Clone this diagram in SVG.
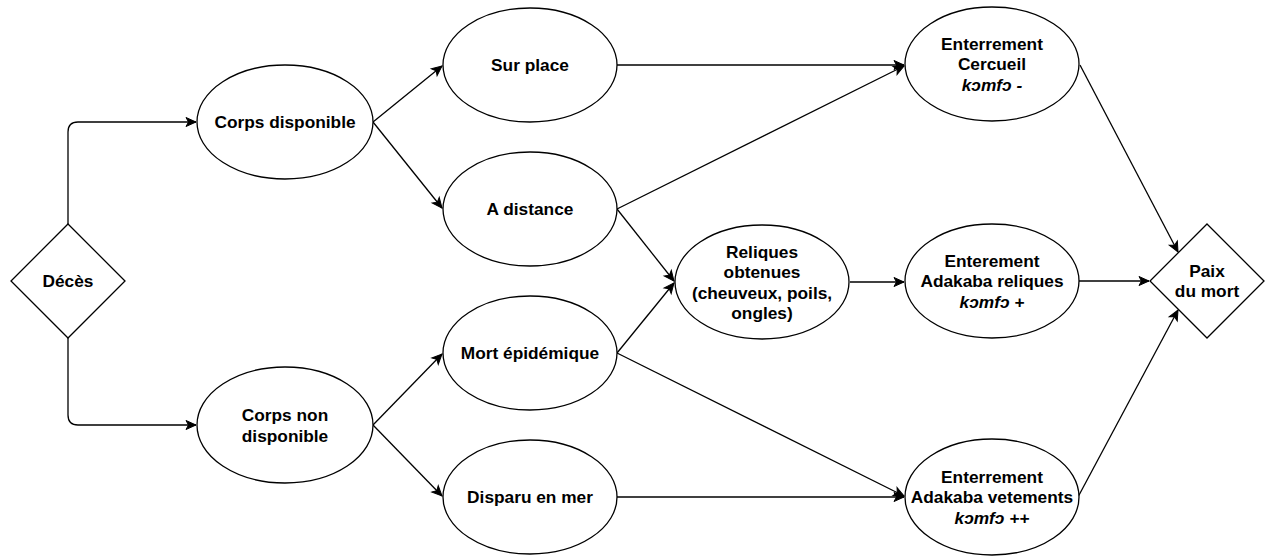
<svg xmlns="http://www.w3.org/2000/svg" width="1265" height="556" viewBox="0 0 1265 556">
<style>
.n{fill:#fff;stroke:#000;stroke-width:1.3}
.t{font-family:"Liberation Sans",Arial,Helvetica,sans-serif;font-size:17.3px;font-weight:bold;fill:#000;text-anchor:middle}
.i{font-style:italic}
.c{fill:none;stroke:#000;stroke-width:1.3}
</style>
<defs>
<marker id="a" markerUnits="userSpaceOnUse" markerWidth="12" markerHeight="10" refX="10" refY="4.5" orient="auto" overflow="visible">
<path d="M0,0 L10,4.5 L0,9 L2.5,4.5 Z" fill="#000" stroke="#000" stroke-width="1"/>
</marker>
</defs>
<rect width="1265" height="556" fill="#fff"/>
<g id="connectors">
<path class="c" d="M68,224 V132 Q68,122 78,122 H196" marker-end="url(#a)"/>
<path class="c" d="M68,338 V415 Q68,425 78,425 H196" marker-end="url(#a)"/>
<path class="c" d="M373,122 L442,66" marker-end="url(#a)"/>
<path class="c" d="M373,122 L442,208" marker-end="url(#a)"/>
<path class="c" d="M373,425 L442,354" marker-end="url(#a)"/>
<path class="c" d="M373,425 L442,496" marker-end="url(#a)"/>
<path class="c" d="M617,65 L904,65" marker-end="url(#a)"/>
<path class="c" d="M617,209 L904,66" marker-end="url(#a)"/>
<path class="c" d="M617,209 L674,281" marker-end="url(#a)"/>
<path class="c" d="M617,353 L674,283" marker-end="url(#a)"/>
<path class="c" d="M617,353 L904,496" marker-end="url(#a)"/>
<path class="c" d="M617,497 L904,497" marker-end="url(#a)"/>
<path class="c" d="M850,282 L904,282" marker-end="url(#a)"/>
<path class="c" d="M1080,65 L1178,252" marker-end="url(#a)"/>
<path class="c" d="M1078,281 L1149,281" marker-end="url(#a)"/>
<path class="c" d="M1078,497 L1178,310" marker-end="url(#a)"/>
</g>
<g id="deces">
<polygon class="n" points="68,224 125,281 68,338 11,281"/>
<text class="t" x="68" y="287">Décès</text>
</g>
<g id="corps-disponible">
<ellipse class="n" cx="285" cy="122" rx="88" ry="57"/>
<text class="t" x="285" y="128">Corps disponible</text>
</g>
<g id="corps-non-disponible">
<ellipse class="n" cx="285" cy="425" rx="88" ry="58"/>
<text class="t" x="285" y="421">Corps non</text>
<text class="t" x="285" y="441.5">disponible</text>
</g>
<g id="sur-place">
<ellipse class="n" cx="530" cy="65" rx="87" ry="57"/>
<text class="t" x="530" y="71">Sur place</text>
</g>
<g id="a-distance">
<ellipse class="n" cx="530" cy="209" rx="87" ry="57"/>
<text class="t" x="530" y="215">A distance</text>
</g>
<g id="mort-epidemique">
<ellipse class="n" cx="530" cy="353" rx="87" ry="57"/>
<text class="t" x="530" y="359">Mort épidémique</text>
</g>
<g id="disparu-en-mer">
<ellipse class="n" cx="530" cy="497" rx="87" ry="57"/>
<text class="t" x="530" y="503">Disparu en mer</text>
</g>
<g id="reliques">
<ellipse class="n" cx="762" cy="282" rx="87" ry="57"/>
<text class="t" x="762" y="257.5">Reliques</text>
<text class="t" x="762" y="278">obtenues</text>
<text class="t" x="762" y="298.5">(cheuveux, poils,</text>
<text class="t" x="762" y="319">ongles)</text>
</g>
<g id="enterrement-cercueil">
<ellipse class="n" cx="992" cy="64" rx="87" ry="57"/>
<text class="t" x="992" y="49.5">Enterrement</text>
<text class="t" x="992" y="70">Cercueil</text>
<text class="t i" x="992" y="90.5">kɔmfɔ -</text>
</g>
<g id="enterement-reliques">
<ellipse class="n" cx="992" cy="281" rx="87" ry="57"/>
<text class="t" x="992" y="266.5">Enterement</text>
<text class="t" x="992" y="287">Adakaba reliques</text>
<text class="t i" x="992" y="307.5">kɔmfɔ +</text>
</g>
<g id="enterrement-vetements">
<ellipse class="n" cx="992" cy="497" rx="87" ry="58"/>
<text class="t" x="992" y="482.5">Enterrement</text>
<text class="t" x="992" y="503">Adakaba vetements</text>
<text class="t i" x="992" y="523.5">kɔmfɔ ++</text>
</g>
<g id="paix-du-mort">
<polygon class="n" points="1207,224 1264,281 1207,338 1150,281"/>
<text class="t" x="1207" y="276.5">Paix</text>
<text class="t" x="1207" y="297">du mort</text>
</g>
</svg>
